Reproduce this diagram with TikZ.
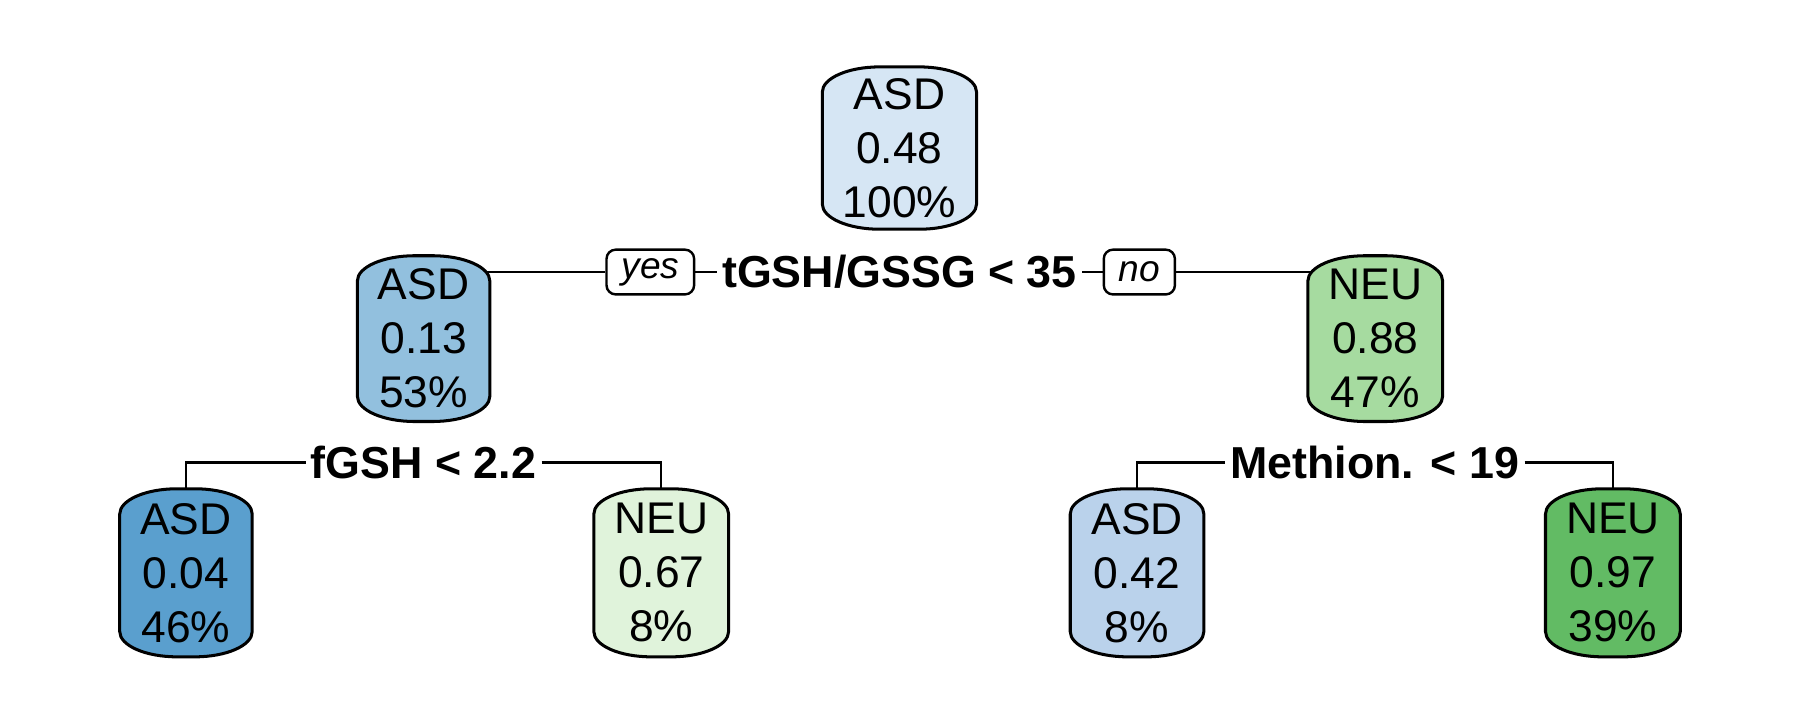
\documentclass[tikz,border=0pt]{standalone}
\usepackage{fontspec}
\setmainfont{Liberation Sans}
\usepackage{tikz}
\usetikzlibrary{positioning}
\pgfdeclarelayer{bg}
\pgfsetlayers{bg,main}
\definecolor{asdpale}{RGB}{214,230,244}
\definecolor{asdmid}{RGB}{146,192,222}
\definecolor{asddark}{RGB}{90,159,206}
\definecolor{asdlight}{RGB}{186,210,235}
\definecolor{neupale}{RGB}{224,243,219}
\definecolor{neumid}{RGB}{166,219,160}
\definecolor{neudark}{RGB}{98,187,100}
\newcommand{\cask}[2]{%
\draw[boxline, fill=#2] ([yshift=-2.2mm]#1.north west) arc[start angle=180, end angle=90, x radius=5mm, y radius=2.2mm] -- ([xshift=-5mm]#1.north east) arc[start angle=90, end angle=0, x radius=5mm, y radius=2.2mm] -- ([yshift=2.2mm]#1.south east) arc[start angle=0, end angle=-90, x radius=5mm, y radius=2.2mm] -- ([xshift=5mm]#1.south west) arc[start angle=-90, end angle=-180, x radius=5mm, y radius=2.2mm] -- cycle;}
\begin{document}
\begin{tikzpicture}[x=0.1mm, y=0.1mm,
  boxline/.style={black, line width=0.75pt},
  cls/.style={inner sep=0pt, align=center, font=\fontsize{11}{13.4}\selectfont, minimum width=11.4mm, minimum height=14.3mm},
  split/.style={inner xsep=0.4mm, inner ysep=0pt, font=\fontsize{11.1}{13}\selectfont\bfseries},
  yesno/.style={draw, fill=white, rounded corners=0.8mm, line width=0.6pt, inner xsep=1.3mm, inner ysep=0pt, minimum height=3.9mm, font=\fontsize{9.2}{10}\selectfont\itshape},
  branch/.style={black, line width=0.6pt}]
\useasboundingbox (0,0) rectangle (1568,627);

\node[cls, minimum width=13.3mm, minimum height=14mm] (n1) at (783.5,498) {ASD\\0.48\\100\%};
\node[split] (s1) at (783.5,390) {tGSH/GSSG < 35};
\node[yesno] (yes) at (566.5,390) {yes\hspace{0.9mm}};
\node[yesno] (no) at (992.5,390) {no\hspace{0.8mm}};

\node[cls] (n2) at (369,332) {ASD\\0.13\\53\%};
\node[cls, minimum width=11.6mm] (n3) at (1198,332) {NEU\\0.88\\47\%};
\node[split] (s2) at (369,224) {fGSH < 2.2};
\node[split] (s3) at (1197.5,224) {Methion. < 19};

\node[cls, minimum height=14.5mm] (n4) at (162,128) {ASD\\0.04\\46\%};
\node[cls, minimum width=11.6mm, minimum height=14.5mm] (n5) at (576,128) {NEU\\0.67\\8\%};
\node[cls, minimum width=11.5mm, minimum height=14.5mm] (n6) at (990.5,128) {ASD\\0.42\\8\%};
\node[cls, minimum width=11.6mm, minimum height=14.5mm] (n7) at (1405,128) {NEU\\0.97\\39\%};

\begin{pgfonlayer}{bg}
\draw[branch] (yes.west) -- (yes.west -| n2.center);
\draw[branch] (yes.east) -- (yes.east -| s1.west);
\draw[branch] (s1.east) -- (s1.east -| no.west);
\draw[branch] (no.east) -- (no.east -| n3.center);
\draw[branch] (s2.west) -| (n4.center);
\draw[branch] (s2.east) -| (n5.center);
\draw[branch] (s3.west) -| (n6.center);
\draw[branch] (s3.east) -| (n7.center);
\cask{n1}{asdpale}
\cask{n2}{asdmid}
\cask{n3}{neumid}
\cask{n4}{asddark}
\cask{n5}{neupale}
\cask{n6}{asdlight}
\cask{n7}{neudark}
\end{pgfonlayer}

\end{tikzpicture}
\end{document}
